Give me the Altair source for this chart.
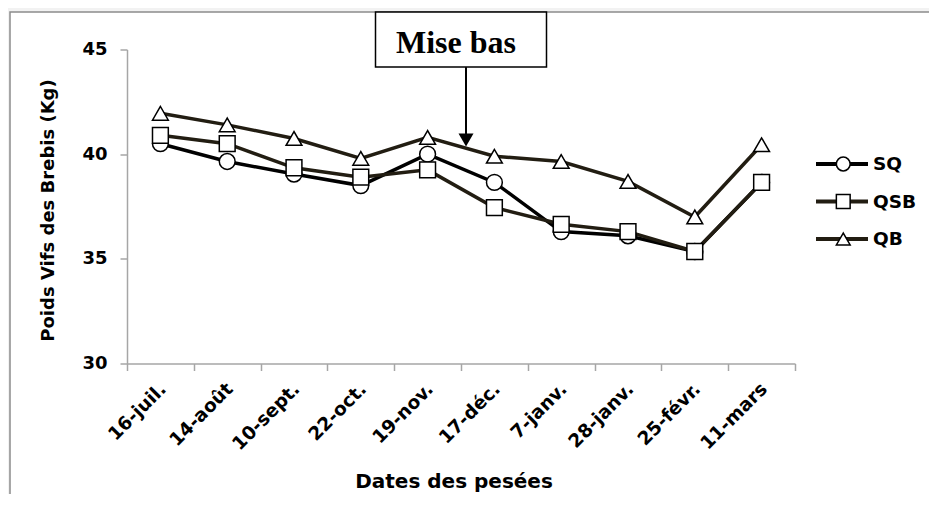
import altair as alt
import pandas as pd

# ---- data ----
dates = ["16-juil.", "14-août", "10-sept.", "22-oct.", "19-nov.",
         "17-déc.", "7-janv.", "28-janv.", "25-févr.", "11-mars"]
series = ["SQ", "QSB", "QB"]
markers = ["c", "s", "t"]
sq = [40.5, 39.65, 39.05, 38.5, 40.0, 38.65, 36.3, 36.1, 35.35, 38.65]
qsb = [40.9, 40.5, 39.35, 38.9, 39.25, 37.45, 36.65, 36.3, 35.35, 38.65]
qb = [41.95, 41.4, 40.75, 39.8, 40.8, 39.9, 39.65, 38.7, 37.0, 40.45]
y_ticks = [30, 35, 40, 45]

rows = []
for s, m, vals in zip(series, markers, [sq, qsb, qb]):
    for d, v in zip(dates, vals):
        rows.append({"date": d, "serie": s, "marker": m, "poids": v})
df = pd.DataFrame(rows)

# annotation anchored in data units
ann_date = "17-déc."
ann_label = "Mise bas"
ann = pd.DataFrame({"date": [ann_date], "label": [ann_label],
                    "box_y": [45.478], "text_y": [44.82],
                    "arrow_top": [44.16], "arrow_end": [40.95], "head_y": [40.68]})

W, H = 668, 314
SANS = "DejaVu Sans"
AXIS_GRAY = "#a6a6a6"

x_scale = alt.Scale(type="band", domain=dates, paddingInner=0, paddingOuter=0)
y_scale = alt.Scale(domain=[30, 45], nice=False, zero=False)

x_axis = alt.Axis(
    title="Dates des pesées", titleFont=SANS, titleFontSize=20, titleFontWeight="bold",
    titleColor="black", titleX=326.5, titleY=124, titleBaseline="alphabetic", titleAlign="center",
    labelAngle=-45, labelAlign="right", labelBaseline="middle", labelFont=SANS,
    labelFontSize=18.5, labelFontWeight="bold", labelColor="black", labelPadding=15,
    labelOffset=2, labelOverlap=False, tickBand="extent", tickSize=7, tickColor=AXIS_GRAY,
    tickWidth=1.5, domainColor=AXIS_GRAY, domainWidth=1.5, grid=False, zindex=1)

y_axis = alt.Axis(
    title="Poids Vifs des Brebis (Kg)", titleFont=SANS, titleFontSize=18,
    titleFontWeight="bold", titleColor="black", titleX=-74, titleY=160.5,
    titleBaseline="alphabetic", titleAlign="center", titleAngle=270,
    values=y_ticks, labelFont=SANS, labelFontSize=18, labelFontWeight="bold",
    labelColor="black", labelPadding=13, tickSize=7, tickColor=AXIS_GRAY, tickWidth=1.5,
    domainColor=AXIS_GRAY, domainWidth=1.5, grid=False, zindex=1)

border = alt.Chart(pd.DataFrame({"a": [0]})).mark_rect(
    fill="white", stroke="#8c8c8c", strokeWidth=1.5
).encode(x=alt.value(-117), y=alt.value(-37.5), x2=alt.value(W + 160), y2=alt.value(H + 160))

lines = alt.Chart(df).mark_line(strokeWidth=3.5).encode(
    x=alt.X("date:N", sort=dates, scale=x_scale, axis=x_axis),
    y=alt.Y("poids:Q", scale=y_scale, axis=y_axis),
    color=alt.Color("serie:N", scale=alt.Scale(domain=series, range=["#000000", "#221d12", "#221d12"]),
                    legend=alt.Legend(orient="none", legendX=687, legendY=104.5, title=None,
                                      symbolType="stroke", symbolSize=2704, symbolStrokeWidth=4,
                                      labelFont=SANS, labelFontSize=18.5, labelFontWeight="bold",
                                      labelColor="black", clipHeight=20, rowPadding=17.5,
                                      labelOffset=3, padding=0)),
)

points = alt.Chart(df).mark_point(filled=False, fill="white", stroke="black", strokeWidth=1.5,
                                  size=250, opacity=1, fillOpacity=1).encode(
    x=alt.X("date:N", sort=dates),
    y=alt.Y("poids:Q"),
    shape=alt.Shape("marker:N", scale=alt.Scale(domain=markers, range=["circle", "square", "triangle-up"]),
                    legend=alt.Legend(orient="none", legendX=707, legendY=104.5, title=None,
                                      symbolSize=190, symbolStrokeWidth=1.5, labelOpacity=0,
                                      labelFont=SANS, labelFontSize=18.5, labelFontWeight="bold",
                                      clipHeight=20, rowPadding=17.5, padding=0, zindex=2)),
)

box = alt.Chart(ann).mark_point(
    shape="M-1,-0.3216L1,-0.3216L1,0.3216L-1,0.3216Z", size=171 ** 2, filled=True,
    fill="white", stroke="black", strokeWidth=1.5, opacity=1
).encode(x=alt.X("date:N", bandPosition=0), y="box_y:Q")

arrow = alt.Chart(ann).mark_rule(color="black", strokeWidth=2).encode(
    x=alt.X("date:N", bandPosition=0.075), y="arrow_top:Q", y2="arrow_end:Q")

head = alt.Chart(ann).mark_point(shape="triangle-down", size=225, filled=True, fill="black",
                                 opacity=1).encode(
    x=alt.X("date:N", bandPosition=0.075), y="head_y:Q")

text = alt.Chart(ann).mark_text(font="Liberation Serif", fontSize=32, fontWeight="bold",
                                color="black", baseline="alphabetic", align="center", dx=-5).encode(
    x=alt.X("date:N", bandPosition=0), y="text_y:Q", text="label:N")

chart = alt.layer(border, lines, points, box, arrow, head, text).properties(
    width=W, height=H,
    autosize=alt.AutoSizeParams(type="none"),
    padding={"left": 119, "top": 41.5, "right": 134, "bottom": 130},
    background="#f2f2f2",
).configure_view(stroke=None)

chart.save("out.html", embed_options={"renderer": "svg", "actions": False})
